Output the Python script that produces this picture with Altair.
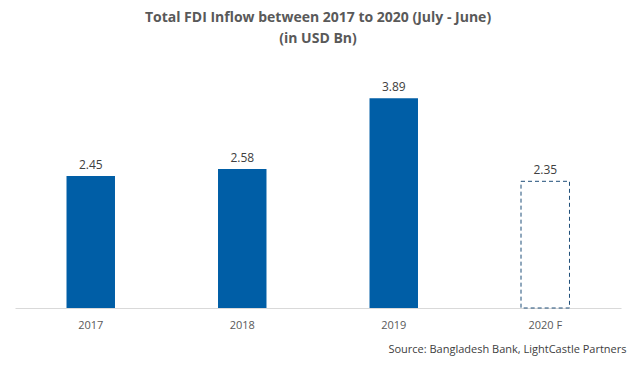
import altair as alt
import pandas as pd

years = ["2017", "2018", "2019", "2020 F"]
values = [2.45, 2.58, 3.89, 2.35]
forecast = [False, False, False, True]
labels = ["2.45", "2.58", "3.89", "2.35"]

df = pd.DataFrame({"year": years, "value": values, "forecast": forecast, "label": labels})

FONT = "Open Sans"

x = alt.X("year:N", sort=years,
          scale=alt.Scale(paddingInner=0.68, paddingOuter=0.34),
          axis=alt.Axis(title="Source:  Bangladesh Bank, LightCastle Partners",
                        titleAnchor="end", titleAlign="right", titleFontWeight="normal",
                        titleFontSize=11, titleColor="#404040", titlePadding=13,
                        titleFont=FONT, titleX=611,
                        labelAngle=0, labelFont=FONT, labelFontSize=11, labelColor="#595959",
                        labelPadding=11, ticks=False, domainColor="#D9D9D9", domainWidth=1))
y = alt.Y("value:Q", scale=alt.Scale(domain=[0, 4.6]), axis=None)

base = alt.Chart(df)

solid = base.transform_filter("!datum.forecast").mark_bar(color="#005EA6").encode(x=x, y=y)
dashed = base.transform_filter("datum.forecast").mark_bar(
    fill="white", fillOpacity=0, stroke="#1F4E79", strokeDash=[4, 3], strokeWidth=1
).encode(x=x, y=y)
text = base.mark_text(dy=-11, font=FONT, fontSize=12, color="#404040").encode(
    x=x, y=y, text="label:N")

chart = alt.layer(solid, dashed, text).properties(
    width=606, height=248,
    autosize=alt.AutoSizeParams(type="none"),
    padding={"left": 7, "top": 52, "right": 7, "bottom": 54},
    title=alt.TitleParams(
        text=["Total FDI Inflow between 2017 to 2020 (July - June)", "(in USD Bn)"],
        font=FONT, fontSize=14, fontWeight="bold", color="#595959",
        anchor="middle", offset=14, lineHeight=21),
).configure_view(stroke=None)

chart.save("out.html", embed_options={"renderer": "svg", "actions": False})
